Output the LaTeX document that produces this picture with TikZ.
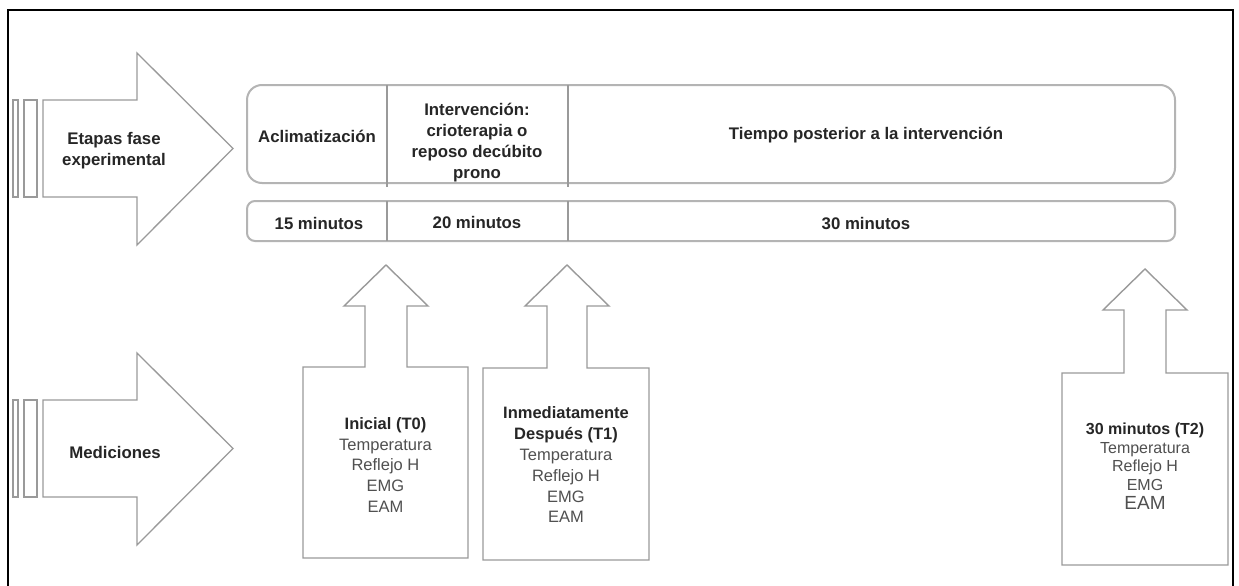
\documentclass[tikz,border=0pt]{standalone}
\usepackage{fontspec}
\setmainfont{Liberation Sans}
\definecolor{lineg}{HTML}{9A9A9A}
\definecolor{boxg}{HTML}{B4B4B4}
\definecolor{txtd}{HTML}{262626}
\definecolor{txtg}{HTML}{505050}
\tikzset{
  shapeline/.style={draw=lineg, line width=1.3pt, line join=miter},
  calloutline/.style={draw=lineg, line width=1.4pt, line join=miter},
  boldtxt/.style={font=\fontsize{16.8}{21}\selectfont\bfseries, text=txtd, inner sep=0pt, align=center},
  listtxt/.style={font=\fontsize{16.5}{20.8}\selectfont, text=txtg, inner sep=0pt, align=center},
}
\begin{document}
\begin{tikzpicture}[x=1pt,y=-1pt]
\useasboundingbox (0,0) rectangle (1239,586);
\fill[white] (0,0) rectangle (1239,586);
\draw[black, line width=1.5pt] (8,600) -- (8,10) -- (1233,10) -- (1233,600);

% striped arrow: Etapas
\draw[shapeline] (13,100) rectangle (18,197);
\draw[shapeline] (24,100) rectangle (37,197);
\draw[shapeline] (43,100) -- (137,100) -- (137,53) -- (233,148.5) -- (137,245) -- (137,197) -- (43,197) -- cycle;
\node[boldtxt] (etapas) at (114,151) {Etapas fase\\experimental};

% striped arrow: Mediciones
\draw[shapeline] (13,400) rectangle (18,497);
\draw[shapeline] (24,400) rectangle (37,497);
\draw[shapeline] (43,400) -- (137,400) -- (137,353) -- (233,448.5) -- (137,545) -- (137,497) -- (43,497) -- cycle;
\node[boldtxt] (medic) at (115,452) {Mediciones};

% stages box
\draw[draw=boxg, line width=2pt, rounded corners=15pt] (247,85) rectangle (1175,183);
\draw[draw=lineg, line width=1.3pt] (387,85) -- (387,187);
\draw[draw=lineg, line width=1.3pt] (568,85) -- (568,187);
\node[boldtxt] (acl) at (317,136) {Aclimatización};
\node[boldtxt] (interv) at (477,142.5) {Intervención:\\crioterapia o\\reposo decúbito\\prono};
\node[boldtxt] (tiempo) at (866,135) {Tiempo posterior a la intervención};

% duration box
\draw[draw=boxg, line width=2pt, rounded corners=8pt] (247,201) rectangle (1175,241);
\draw[draw=lineg, line width=1.3pt] (387,201) -- (387,241);
\draw[draw=lineg, line width=1.3pt] (568,201) -- (568,241);
\node[boldtxt] (m15) at (319,223) {15 minutos};
\node[boldtxt] (m20) at (477,222) {20 minutos};
\node[boldtxt] (m30) at (866,224) {30 minutos};

% callouts with up arrows
\draw[calloutline] (303,367) -- (365,367) -- (365,306) -- (344,306) -- (386,265) -- (428,306) -- (407,306) -- (407,367) -- (468,367) -- (468,558) -- (303,558) -- cycle;
\node[listtxt] (t0) at (385.5,465) {\textbf{\color{txtd}Inicial (T0)}\\Temperatura\\Reflejo H\\EMG\\EAM};

\draw[calloutline] (483,368) -- (547,368) -- (547,306) -- (525,306) -- (567,265) -- (609,306) -- (587,306) -- (587,368) -- (649,368) -- (649,560) -- (483,560) -- cycle;
\node[listtxt] (t1) at (566,465) {\textbf{\color{txtd}Inmediatamente}\\\textbf{\color{txtd}Después (T1)}\\Temperatura\\Reflejo H\\EMG\\EAM};

\draw[calloutline] (1062,373) -- (1124,373) -- (1124,310) -- (1103,310) -- (1145,269) -- (1187,310) -- (1166,310) -- (1166,373) -- (1228,373) -- (1228,565) -- (1062,565) -- cycle;
\node[listtxt, font=\fontsize{16}{18.8}\selectfont] (t2) at (1145,466) {\textbf{\color{txtd}30 minutos (T2)}\\Temperatura\\Reflejo H\\EMG\\{\fontsize{19}{19}\selectfont EAM}};
\end{tikzpicture}
\end{document}
